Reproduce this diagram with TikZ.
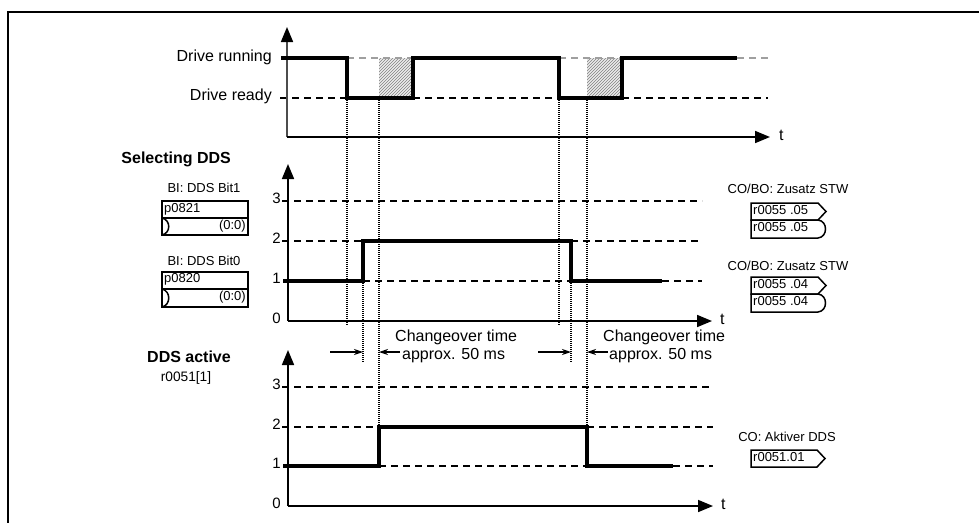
\documentclass[tikz,border=0pt]{standalone}
\usepackage{fontspec}
\setmainfont{Liberation Sans}
\usetikzlibrary{arrows.meta,patterns}
\begin{document}
\begin{tikzpicture}[x=1pt,y=-1pt,
  sig/.style={line width=3.1pt, line join=miter},
  lvl/.style={line width=2.3pt, dash pattern=on 7pt off 5pt},
  glvl/.style={line width=2pt, dash pattern=on 7pt off 5pt, gray!75},
  axisline/.style={line width=1.7pt, -{Triangle[length=15pt,width=12pt,black]}},
  vdot/.style={line width=2.2pt, dash pattern=on 1.4pt off 0.6pt},
  dimarrow/.style={line width=1.2pt, -{Stealth[length=9pt,width=6pt]}},
  big/.style={font=\fontsize{16}{18}\selectfont, inner sep=0pt},
  bigb/.style={font=\fontsize{16}{18}\selectfont\bfseries, inner sep=0pt},
  small/.style={font=\fontsize{13}{15}\selectfont, inner sep=0pt},
  lvltxt/.style={font=\fontsize{15}{17}\selectfont, inner sep=0pt, anchor=mid east},
  boxline/.style={line width=1.5pt},
  hatch/.style={pattern=north east lines, pattern color=gray}
]
\useasboundingbox (0,0) rectangle (979,523);

% frame
\draw[line width=2.4pt] (979,12) -- (8,12) -- (8,523);

% ================= top chart =================
\fill[gray!15] (379,58) rectangle (413,98);
\fill[hatch] (379,58) rectangle (413,98);
\fill[gray!15] (587,58) rectangle (622,98);
\fill[hatch] (587,58) rectangle (622,98);

\draw[glvl] (347,58) -- (413,58);
\draw[glvl] (559,58) -- (622,58);
\draw[glvl] (737,58) -- (768,58);
\draw[lvl] (280,98) -- (347,98);
\draw[lvl] (413,98) -- (559,98);
\draw[lvl] (622,98) -- (768,98);

\draw[axisline, draw=gray!60!black] (287,137) -- (287,27);
\draw[axisline] (287,137) -- (770,137);
\node[big, anchor=mid west] (t1) at (779,138) {t};

\node[big, anchor=mid east] (run) at (272,59) {Drive running};
\node[big, anchor=mid east] (rdy) at (272,98) {Drive ready};

% dotted verticals
\draw[vdot] (347,98) -- (347,325);
\draw[vdot] (379,98) -- (379,466);
\draw[vdot] (559,98) -- (559,325);
\draw[vdot] (587,98) -- (587,466);
\draw[vdot] (363,281) -- (363,362);
\draw[vdot] (571,281) -- (571,362);

\draw[sig] (281,58) -- (347,58) -- (347,98) -- (413,98) -- (413,58) -- (559,58)
  -- (559,98) -- (622,98) -- (622,58) -- (737,58);

% ================= middle chart =================
\node[bigb, anchor=mid east] (sel) at (231,161) {Selecting DDS};

\draw[lvl] (282,201) -- (702,201);
\draw[lvl] (282,241) -- (363,241);
\draw[lvl] (571,241) -- (702,241);
\draw[lvl] (363,281) -- (571,281);
\draw[lvl] (662,281) -- (702,281);

\draw[axisline] (288,321) -- (288,164);
\draw[axisline] (288,321) -- (712,321);
\node[big, anchor=mid west] (t2) at (720,322) {t};

\node[lvltxt] (m3) at (281,201) {3};
\node[lvltxt] (m2) at (281,241) {2};
\node[lvltxt] (m1) at (281,281) {1};
\node[lvltxt] (m0) at (281,321) {0};

\draw[sig] (283,281) -- (363,281) -- (363,241) -- (571,241) -- (571,281) -- (662,281);

% left parameter boxes
\node[small] (bi1) at (204,188) {BI: DDS Bit1};
\draw[boxline] (162,201) rectangle (248,235);
\draw[boxline] (162,218) -- (248,218);
\draw[boxline] (162,218) .. controls (171,220) and (171,233) .. (162,235);
\node[small, anchor=mid west] (p821) at (164,210) {p0821};
\node[small, anchor=mid east] (p821v) at (246,227) {(0:0)};

\node[small] (bi0) at (204,261) {BI: DDS Bit0};
\draw[boxline] (162,272) rectangle (248,307);
\draw[boxline] (162,289) -- (248,289);
\draw[boxline] (162,289) .. controls (171,291) and (171,305) .. (162,307);
\node[small, anchor=mid west] (p820) at (164,280) {p0820};
\node[small, anchor=mid east] (p820v) at (246,298) {(0:0)};

% right connector boxes
\node[small] (co1) at (788,189) {CO/BO: Zusatz STW};
\draw[boxline] (751,203) -- (818,203) -- (826,211.5) -- (818,220) -- (751,220) -- cycle;
\draw[boxline] (751,220) -- (818,220) .. controls (828,221) and (828,237) .. (818,238) -- (751,238) -- cycle;
\node[small, anchor=mid west] (r5a) at (753,211.5) {r0055 .05};
\node[small, anchor=mid west] (r5b) at (753,229) {r0055 .05};

\node[small] (co2) at (788,266) {CO/BO: Zusatz STW};
\draw[boxline] (751,277) -- (818,277) -- (826,285.5) -- (818,294) -- (751,294) -- cycle;
\draw[boxline] (751,294) -- (818,294) .. controls (828,295) and (828,311) .. (818,312) -- (751,312) -- cycle;
\node[small, anchor=mid west] (r4a) at (753,285.5) {r0055 .04};
\node[small, anchor=mid west] (r4b) at (753,303) {r0055 .04};

% changeover annotations
\coordinate (a1s) at (330,352);
\coordinate (a1e) at (363,352);
\coordinate (a2s) at (400,352);
\coordinate (a2e) at (379,352);
\coordinate (a3s) at (538,352);
\coordinate (a3e) at (571,352);
\coordinate (a4s) at (608,352);
\coordinate (a4e) at (587,352);
\draw[dimarrow] (a1s) -- (a1e);
\draw[dimarrow] (a2s) -- (a2e);
\draw[dimarrow] (a3s) -- (a3e);
\draw[dimarrow] (a4s) -- (a4e);
\node[big, anchor=mid west] (ch1) at (395,339) {Changeover time};
\node[big, anchor=mid west] (ap1) at (402,357) {approx. 50 ms};
\node[big, anchor=mid west] (ch2) at (603,339) {Changeover time};
\node[big, anchor=mid west] (ap2) at (609,357) {approx. 50 ms};

% ================= bottom chart =================
\node[bigb, anchor=mid east] (act) at (231,360) {DDS active};
\node[font=\fontsize{13.7}{16}\selectfont, inner sep=0pt] (r51) at (186,378) {r0051[1]};

\draw[lvl] (282,387) -- (713,387);
\draw[lvl] (282,427) -- (379,427);
\draw[lvl] (587,427) -- (713,427);
\draw[lvl] (379,466) -- (587,466);
\draw[lvl] (673,466) -- (713,466);

\draw[axisline] (288,506) -- (288,350);
\draw[axisline] (288,506) -- (713,506);
\node[big, anchor=mid west] (t3) at (721,507) {t};

\node[lvltxt] (b3) at (281,387) {3};
\node[lvltxt] (b2) at (281,427) {2};
\node[lvltxt] (b1) at (281,466) {1};
\node[lvltxt] (b0) at (281,506) {0};

\draw[sig] (283,466) -- (379,466) -- (379,427) -- (587,427) -- (587,466) -- (673,466);

\node[small] (coa) at (787,437) {CO: Aktiver DDS};
\draw[boxline] (751,450) -- (817,450) -- (825,458.5) -- (817,467) -- (751,467) -- cycle;
\node[small, anchor=mid west] (r51o) at (753,458.5) {r0051.01};

\end{tikzpicture}
\end{document}
